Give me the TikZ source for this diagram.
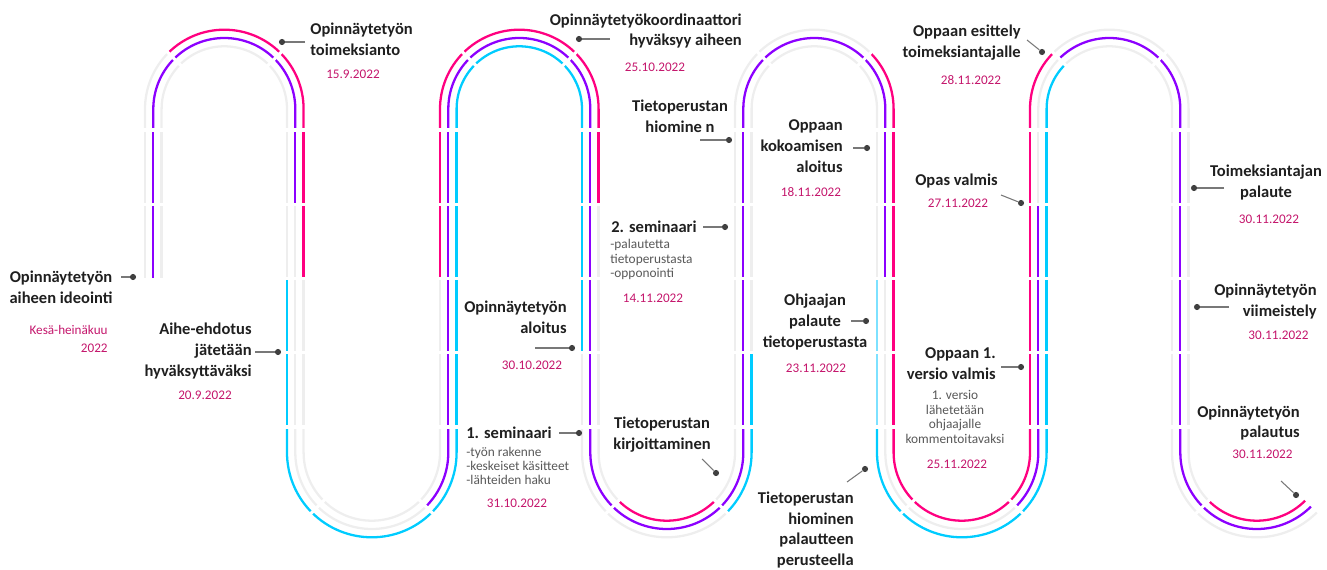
\documentclass[tikz,border=0pt]{standalone}
\usepackage{fontspec}
\setmainfont{Carlito}
\usetikzlibrary{positioning}

\definecolor{lgrey}{RGB}{238,238,238}
\definecolor{lpink}{RGB}{255,0,128}
\definecolor{lpurple}{RGB}{140,0,255}
\definecolor{lcyan}{RGB}{0,204,255}
\definecolor{lcyanpale}{RGB}{125,225,255}
\definecolor{datered}{RGB}{196,22,108}
\definecolor{subgrey}{RGB}{88,88,88}
\definecolor{dotgrey}{RGB}{64,64,64}
\definecolor{leadgrey}{RGB}{120,120,120}

% one lane of a column: x, colours of the four rows
\newcommand{\lanecol}[5]{%
	\draw[lane,draw=#2] (#1,-130) -- (#1,-204.25);
	\draw[lane,draw=#3] (#1,-204.25) -- (#1,-278.5);
	\draw[lane,draw=#4] (#1,-278.5) -- (#1,-352.75);
	\draw[lane,draw=#5] (#1,-352.75) -- (#1,-427);
}
% one lane of an upper bend: centre x, radius, left / top / right colour
\newcommand{\toparc}[5]{%
	\draw[lane,draw=#3] ({#1-#2},-130) -- ({#1-#2},-109) arc[start angle=180,end angle=135,radius={#2*0.02cm}];
	\draw[lane,draw=#4] (#1,-109) ++(135:#2) arc[start angle=135,end angle=45,radius={#2*0.02cm}];
	\draw[lane,draw=#5] (#1,-109) ++(45:#2) arc[start angle=45,end angle=0,radius={#2*0.02cm}] -- ({#1+#2},-130);
}
% one lane of a lower bend: centre x, radius, left / bottom / right colour
\newcommand{\botarc}[5]{%
	\draw[lane,draw=#3] ({#1-#2},-427) -- ({#1-#2},-452.5) arc[start angle=180,end angle=225,radius={#2*0.02cm}];
	\draw[lane,draw=#4] (#1,-452.5) ++(225:#2) arc[start angle=225,end angle=315,radius={#2*0.02cm}];
	\draw[lane,draw=#5] (#1,-452.5) ++(315:#2) arc[start angle=315,end angle=360,radius={#2*0.02cm}] -- ({#1+#2},-427);
}

\begin{document}
\begin{tikzpicture}[x=0.02cm,y=0.02cm,
			lane/.style={line width=1.3pt},
			gap/.style={white,line width=1.8pt},
			lbl/.style={font=\bfseries\fontsize{9.4}{11.9}\selectfont,text=black!88,inner sep=0},
			datelbl/.style={font=\fontsize{7.5}{10}\selectfont,text=datered,inner sep=0},
			sublbl/.style={font=\fontsize{7.6}{8.2}\selectfont,text=subgrey,inner sep=0},
			dotnode/.style={circle,fill=dotgrey,inner sep=0,minimum size=3.5pt},
			leader/.style={draw=leadgrey,line width=0.6pt},
			]
			
			\useasboundingbox (0,0) rectangle (1327,-570);
			
			%first column (starts at the bottom)
			\draw[lane,lgrey] (145,-130) -- (145,-278.5);
			\draw[lane,lpurple] (153.3,-130) -- (153.3,-278.5);
			\draw[lane,lgrey] (161.6,-130) -- (161.6,-278.5);
			
			%columns
			\foreach \x/\a/\b/\c/\d in {
				287/lgrey/lgrey/lcyan/lcyan, 295.3/lpurple/lgrey/lgrey/lgrey, 303.6/lpink/lpink/lgrey/lgrey,
				440/lpink/lpink/lgrey/lgrey, 448.3/lpurple/lpurple/lpurple/lpurple, 456.6/lcyan/lcyan/lcyan/lcyan,
				582/lcyan/lcyan/lcyan/lgrey, 590.3/lpurple/lpurple/lpurple/lpurple, 598.6/lpink/lgrey/lgrey/lgrey,
				735/lgrey/lgrey/lgrey/lgrey, 743.3/lpurple/lpurple/lpurple/lpurple, 751.6/lgrey/lgrey/lgrey/lcyan,
				877/lgrey/lgrey/lcyanpale/lcyanpale, 885.3/lpurple/lpurple/lgrey/lgrey, 893.6/lpink/lpink/lpink/lpink,
				1030/lpink/lpink/lpink/lpink, 1038.3/lgrey/lpurple/lpurple/lpurple, 1046.6/lcyan/lcyan/lcyan/lcyan,
				1172/lgrey/lgrey/lgrey/lgrey, 1180.3/lpurple/lpurple/lpurple/lpurple, 1188.6/lgrey/lgrey/lgrey/lgrey}
			{
				\lanecol{\x}{\a}{\b}{\c}{\d}
			}
			
			%upper bends
			\foreach \cx/\r/\a/\b/\c in {
				224.3/79.3/lgrey/lpink/lpink, 224.3/71/lpurple/lpurple/lpurple, 224.3/62.7/lgrey/lgrey/lgrey,
				519.3/79.3/lpink/lpink/lpink, 519.3/71/lpurple/lpurple/lpurple, 519.3/62.7/lcyan/lcyan/lcyan,
				814.3/79.3/lgrey/lgrey/lpink, 814.3/71/lpurple/lpurple/lpurple, 814.3/62.7/lgrey/lgrey/lgrey,
				1109.3/79.3/lpink/lgrey/lgrey, 1109.3/71/lgrey/lpurple/lpurple, 1109.3/62.7/lcyan/lgrey/lgrey}
			{
				\toparc{\cx}{\r}{\a}{\b}{\c}
			}
			
			%lower bends
			\foreach \cx/\r/\a/\b/\c in {
				371.8/84.8/lcyan/lcyan/lcyan, 371.8/76.5/lgrey/lgrey/lpurple, 371.8/68.2/lgrey/lgrey/lgrey,
				666.8/84.8/lgrey/lgrey/lcyan, 666.8/76.5/lpurple/lpurple/lpurple, 666.8/68.2/lgrey/lpink/lgrey,
				961.8/84.8/lcyan/lcyan/lcyan, 961.8/76.5/lgrey/lgrey/lpurple, 961.8/68.2/lpink/lpink/lpink}
			{
				\botarc{\cx}{\r}{\a}{\b}{\c}
			}
			
			%last bend (open end)
			\foreach \r/\a/\b in {84.8/lgrey/lgrey, 76.5/lpurple/lpurple, 68.2/lgrey/lpink}
			{
				\draw[lane,draw=\a] ({1256.8-\r},-427) -- ({1256.8-\r},-452.5) arc[start angle=180,end angle=225,radius={\r*0.02cm}];
				\draw[lane,draw=\b] (1256.8,-452.5) ++(225:\r) arc[start angle=225,end angle=315,radius={\r*0.02cm}];
			}
			
			%gaps
			\foreach \y in {130,204.25}
				\draw[gap] (141,-\y) -- (165.6,-\y);
			\foreach \c in {287,440,582,735,877,1030,1172}
				\foreach \y in {130,204.25,278.5,352.75,427}
					\draw[gap] ({\c-4},-\y) -- ({\c+20.6},-\y);
			\foreach \cx in {224.3,519.3,814.3,1109.3}
				\foreach \a in {45,135}
					\draw[gap] (\cx,-109) ++(\a:57) -- ++(\a:29);
			\foreach \cx in {371.8,666.8,961.8}
				\foreach \a in {225,315}
					\draw[gap] (\cx,-452.5) ++(\a:62) -- ++(\a:29);
			\draw[gap] (1256.8,-452.5) ++(225:62) -- ++(225:29);
			
			%dots
			\node[dotnode] (ideointiP) at (133,-277) {};
			\node[dotnode] (ehdotusP) at (278,-352) {};
			\node[dotnode] (toimeksiantoP) at (282,-42) {};
			\node[dotnode] (koordinaattoriP) at (579,-39) {};
			\node[dotnode] (hiominenP) at (729,-140) {};
			\node[dotnode] (sem2P) at (725,-227) {};
			\node[dotnode] (aloitusP) at (572,-348) {};
			\node[dotnode] (sem1P) at (579,-433) {};
			\node[dotnode] (kirjoitusP) at (716,-473) {};
			\node[dotnode] (kokoaminenP) at (867,-148) {};
			\node[dotnode] (ohjaajaP) at (866,-321) {};
			\node[dotnode] (palautehiominenP) at (865,-469) {};
			\node[dotnode] (esittelyP) at (1042,-52) {};
			\node[dotnode] (valmisP) at (1021,-203) {};
			\node[dotnode] (versioP) at (1021,-367) {};
			\node[dotnode] (palauteP) at (1194,-188) {};
			\node[dotnode] (viimeistelyP) at (1197,-307) {};
			\node[dotnode] (palautusP) at (1296,-495) {};
			
			%leader ends
			\coordinate (ideointiE) at (121,-277);
			\coordinate (ehdotusE) at (255,-352);
			\coordinate (toimeksiantoE) at (305,-42);
			\coordinate (koordinaattoriE) at (610,-39);
			\coordinate (hiominenE) at (700,-140);
			\coordinate (sem2E) at (703,-227);
			\coordinate (aloitusE) at (535,-348);
			\coordinate (sem1E) at (559,-433);
			\coordinate (kirjoitusE) at (702,-459);
			\coordinate (kokoaminenE) at (853,-148);
			\coordinate (ohjaajaE) at (851,-321);
			\coordinate (palautehiominenE) at (847,-482);
			\coordinate (esittelyE) at (1027,-40);
			\coordinate (valmisE) at (1001,-195);
			\coordinate (versioE) at (1001,-367);
			\coordinate (palauteE) at (1224,-188);
			\coordinate (viimeistelyE) at (1229,-307);
			\coordinate (palautusE) at (1281,-481);
			
			\foreach \n in {ideointi,ehdotus,toimeksianto,koordinaattori,hiominen,sem2,aloitus,sem1,kirjoitus,
				kokoaminen,ohjaaja,palautehiominen,esittely,valmis,versio,palaute,viimeistely,palautus}
			{
				\draw[leader] (\n E) -- (\n P);
			}
			
			%labels
			\node[lbl,align=center] (ideointi) at (61,-287.5) {Opinnäytetyön\\aiheen ideointi};
			\node[datelbl,align=right,anchor=east] (ideointiD) at (108,-339) {Kesä-heinäkuu\\2022};
			
			\node[lbl,align=right,anchor=east] (ehdotus) at (252,-351) {Aihe-ehdotus\\jätetään\\hyväksyttäväksi};
			\node[datelbl] (ehdotusD) at (205,-395) {20.9.2022};
			
			\node[lbl,align=left,anchor=west] (toimeksianto) at (310,-39) {Opinnäytetyön\\toimeksianto};
			\node[datelbl] (toimeksiantoD) at (353,-74) {15.9.2022};
			
			\node[lbl,align=right,anchor=east] (koordinaattori) at (742,-31) {Opinnäytetyökoordinaattori\\hyväksyy aiheen};
			\node[datelbl] (koordinaattoriD) at (655,-67) {25.10.2022};
			
			\node[lbl,align=center] (hiominen) at (680,-116.5) {Tietoperustan\\hiomine n};
			
			\node[lbl,anchor=west] (sem2) at (611,-227) {2. seminaari};
			\node[sublbl,align=left,anchor=west] (sem2S) at (610,-259.5) {-palautetta\\tietoperustasta\\-opponointi};
			\node[datelbl] (sem2D) at (653,-298) {14.11.2022};
			
			\node[lbl,align=right,anchor=east] (aloitus) at (567,-317.5) {Opinnäytetyön\\aloitus};
			\node[datelbl] (aloitusD) at (532,-365) {30.10.2022};
			
			\node[lbl,anchor=west] (sem1) at (466,-433) {1. seminaari};
			\node[sublbl,align=left,anchor=west] (sem1S) at (466,-466) {-työn rakenne\\-keskeiset käsitteet\\-lähteiden haku};
			\node[datelbl] (sem1D) at (517,-503) {31.10.2022};
			
			\node[lbl,align=center] (kirjoitus) at (662,-434.5) {Tietoperustan\\kirjoittaminen};
			
			\node[lbl,align=right,anchor=east] (kokoaminen) at (843,-146) {Oppaan\\kokoamisen\\aloitus};
			\node[datelbl] (kokoaminenD) at (811,-192) {18.11.2022};
			
			\node[lbl,align=center] (ohjaaja) at (815,-322) {Ohjaajan\\palaute\\tietoperustasta};
			\node[datelbl] (ohjaajaD) at (816,-368) {23.11.2022};
			
			\node[lbl,align=right,anchor=east] (palautehiominen) at (854,-530) {Tietoperustan\\hiominen\\palautteen\\perusteella};
			
			\node[lbl,align=right,anchor=east] (esittely) at (1021,-42.5) {Oppaan esittely\\toimeksiantajalle};
			\node[datelbl] (esittelyD) at (971,-80) {28.11.2022};
			
			\node[lbl] (valmis) at (956.5,-181) {Opas valmis};
			\node[datelbl] (valmisD) at (958,-203) {27.11.2022};
			
			\node[lbl,align=right,anchor=east] (versio) at (996,-364) {Oppaan 1.\\versio valmis};
			\node[sublbl,align=center] (versioS) at (955,-417) {1. versio\\lähetetään\\ohjaajalle\\kommentoitavaksi};
			\node[datelbl] (versioD) at (957,-464) {25.11.2022};
			
			\node[lbl,align=center] (palaute) at (1266,-182.5) {Toimeksiantajan\\palaute};
			\node[datelbl] (palauteD) at (1269,-219) {30.11.2022};
			
			\node[lbl,align=right,anchor=east] (viimeistely) at (1317,-301.5) {Opinnäytetyön\\viimeistely};
			\node[datelbl] (viimeistelyD) at (1278.5,-335) {30.11.2022};
			
			\node[lbl,align=right,anchor=east] (palautus) at (1300,-423) {Opinnäytetyön\\palautus};
			\node[datelbl] (palautusD) at (1262.5,-454) {30.11.2022};
			
\end{tikzpicture}
\end{document}
